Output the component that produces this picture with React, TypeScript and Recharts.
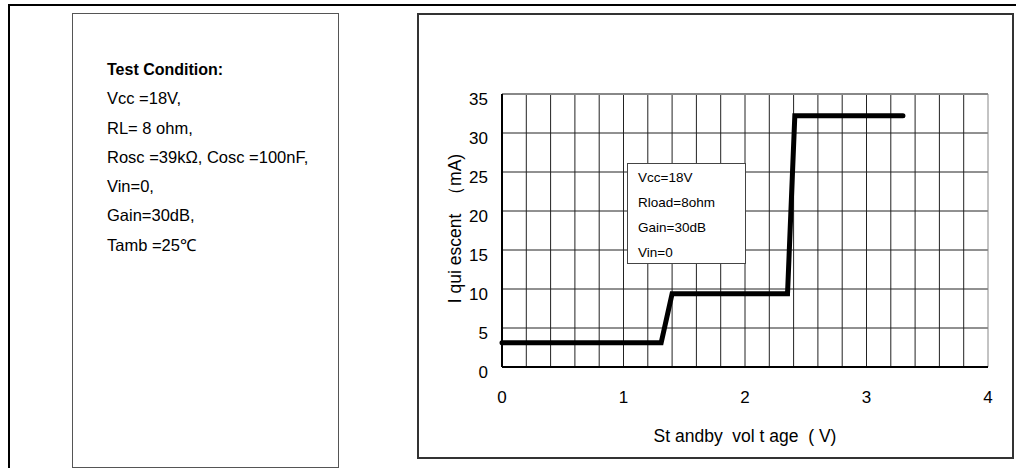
import React from "react";
import {
  LineChart,
  Line,
  XAxis,
  YAxis,
  CartesianGrid,
  ReferenceLine,
  Label,
} from "recharts";

// standby voltage (V)
const standbyVoltage = [0, 1.31, 1.4, 2.35, 2.41, 3.3];
// quiescent current (mA)
const quiescentCurrent = [3.1, 3.1, 9.4, 9.4, 32.2, 32.2];

const xTicks = [0, 1, 2, 3, 4];
const yTicks = [0, 5, 10, 15, 20, 25, 30, 35];
const gridX = [
  0.2, 0.4, 0.6, 0.8, 1, 1.2, 1.4, 1.6, 1.8, 2, 2.2, 2.4, 2.6, 2.8, 3, 3.2,
  3.4, 3.6, 3.8, 4,
];

const testConditions = [
  "Vcc =18V,",
  "RL= 8 ohm,",
  "Rosc =39kΩ, Cosc =100nF,",
  "Vin=0,",
  "Gain=30dB,",
  "Tamb =25℃",
];
const boxLines = ["Vcc=18V", "Rload=8ohm", "Gain=30dB", "Vin=0"];

const data = standbyVoltage.map((v, i) => ({ v, i: quiescentCurrent[i] }));

const FONT = '"Liberation Sans", Arial, sans-serif';

function YLabel(props: any) {
  const vb = props.viewBox || {};
  const cx = vb.x + 37;
  const cy = vb.y + vb.height / 2 - 2;
  return (
    <text
      x={cx}
      y={cy}
      textAnchor="middle"
      dominantBaseline="central"
      transform={`rotate(-90, ${cx}, ${cy})`}
      fontSize={17.5}
      fill="#000"
      fontFamily={FONT}
      style={{ whiteSpace: "pre" }}
    >
      {"I qui escent  （mA)"}
    </text>
  );
}

function XLabel(props: any) {
  const vb = props.viewBox || {};
  return (
    <text
      x={vb.x + vb.width / 2}
      y={vb.y + vb.height - 20}
      textAnchor="middle"
      dominantBaseline="central"
      fontSize={17.5}
      fill="#000"
      fontFamily={FONT}
      style={{ whiteSpace: "pre" }}
    >
      {"St andby  vol t age  ( V)"}
    </text>
  );
}

export default function App() {
  return (
    <div
      style={{
        position: "absolute",
        left: 0,
        top: 0,
        width: 1016,
        height: 468,
        overflow: "hidden",
        background: "#fff",
        fontFamily: FONT,
        color: "#000",
      }}
    >
      {/* outer frame */}
      <div
        style={{
          position: "absolute",
          left: 8,
          top: 4,
          width: 1010,
          height: 470,
          borderTop: "2px solid #000",
          borderLeft: "2px solid #000",
        }}
      />

      {/* test condition panel */}
      <div
        style={{
          position: "absolute",
          left: 72,
          top: 13,
          width: 265,
          height: 453,
          border: "1px solid #555",
        }}
      >
        <div
          style={{
            position: "absolute",
            left: 34,
            top: 41,
            fontSize: 16.5,
            lineHeight: "29.3px",
          }}
        >
          <div style={{ fontWeight: "bold", fontSize: 16 }}>Test Condition:</div>
          {testConditions.map((t) => (
            <div key={t}>{t}</div>
          ))}
        </div>
      </div>

      {/* chart panel */}
      <div
        style={{
          position: "absolute",
          left: 417,
          top: 13,
          width: 593,
          height: 442,
          border: "2px solid #333",
        }}
      />
      <div style={{ position: "absolute", left: 418, top: 14 }}>
        <LineChart
          width={593}
          height={442}
          data={data}
          margin={{ top: 80, right: 23, left: 0, bottom: 0 }}
        >
          <CartesianGrid stroke="#222" strokeWidth={1} vertical={false} />
          {gridX.map((g) => (
            <ReferenceLine
              key={g}
              x={g}
              stroke={g === 4 ? "#888" : "#222"}
              strokeWidth={1}
            />
          ))}
          <ReferenceLine y={35} stroke="#888" strokeWidth={2} />
          <XAxis
            dataKey="v"
            type="number"
            domain={[0, 4]}
            ticks={xTicks}
            height={89}
            tickSize={0}
            tickMargin={24}
            axisLine={{ stroke: "#000", strokeWidth: 2 }}
            tick={{ fontSize: 17, fill: "#000", fontFamily: FONT }}
          >
            <Label content={<XLabel />} />
          </XAxis>
          <YAxis
            type="number"
            domain={[0, 35]}
            ticks={yTicks}
            width={84}
            tickSize={0}
            tickMargin={14}
            axisLine={{ stroke: "#000", strokeWidth: 2 }}
            tick={{ fontSize: 17, fill: "#000", fontFamily: FONT, dy: 5 }}
          >
            <Label content={<YLabel />} />
          </YAxis>
          <Line
            type="linear"
            dataKey="i"
            stroke="#000"
            strokeWidth={5}
            strokeLinecap="round"
            dot={false}
            isAnimationActive={false}
          />
        </LineChart>
      </div>

      {/* inset condition box */}
      <div
        style={{
          position: "absolute",
          left: 627,
          top: 163,
          width: 117,
          height: 99,
          background: "#fff",
          border: "1px solid #444",
          fontSize: 13.5,
          lineHeight: "25px",
        }}
      >
        <div style={{ position: "absolute", left: 10, top: 1 }}>
          {boxLines.map((t) => (
            <div key={t}>{t}</div>
          ))}
        </div>
      </div>
    </div>
  );
}
